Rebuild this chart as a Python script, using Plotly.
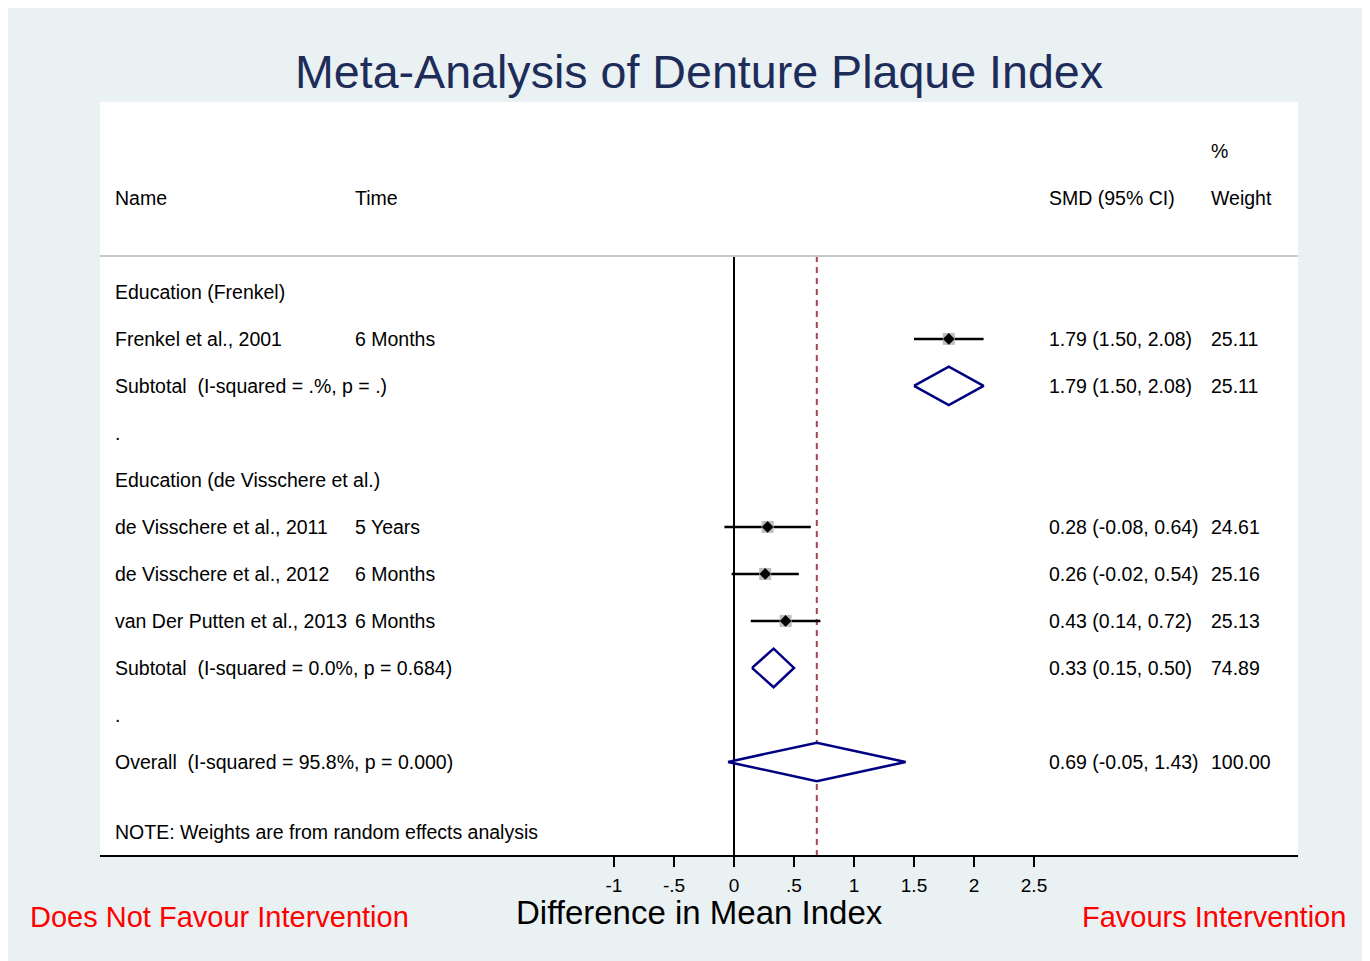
import plotly.graph_objects as go

# ---------------- data ----------------
study_names = ["Frenkel et al., 2001", "de Visschere et al., 2011",
               "de Visschere et al., 2012", "van Der Putten et al., 2013"]
study_times = ["6 Months", "5 Years", "6 Months", "6 Months"]
study_smd = [1.79, 0.28, 0.26, 0.43]
study_lo = [1.50, -0.08, -0.02, 0.14]
study_hi = [2.08, 0.64, 0.54, 0.72]
study_weight = [25.11, 24.61, 25.16, 25.13]
study_rows = [2, 6, 7, 8]

pooled_labels = ["Subtotal\u00a0 (I-squared = .%, p = .)",
                 "Subtotal\u00a0 (I-squared = 0.0%, p = 0.684)",
                 "Overall\u00a0 (I-squared = 95.8%, p = 0.000)"]
pooled_smd = [1.79, 0.33, 0.69]
pooled_lo = [1.50, 0.15, -0.05]
pooled_hi = [2.08, 0.50, 1.43]
pooled_weight = ["25.11", "74.89", "100.00"]
pooled_rows = [3, 9, 11]

group_labels = ["Education (Frenkel)", ".", "Education (de Visschere et al.)", "."]
group_rows = [1, 4, 5, 10]

tick_vals = [-1, -0.5, 0, 0.5, 1, 1.5, 2, 2.5]
tick_text = ["-1", "-.5", "0", ".5", "1", "1.5", "2", "2.5"]

overall_effect = 0.69

# ---------------- layout constants ----------------
FONT = "Arial, Liberation Sans, sans-serif"
X_RANGE = [-5.2833, 4.7]
Y_RANGE = [12.98, -3.04]
X_NAME, X_TIME, X_SMD, X_WT = -5.175, -3.175, 2.608, 3.958
Y_HEADER_LINE = 0.234
NAVY = "#000080"
BG = "#EAF1F3"
ROW_FONT = 19.5


def px_to_paper_y(py):
    return (855 - py) / 753.0


def px_to_paper_x(px):
    return (px - 100) / 1198.0


fig = go.Figure()

# vertical reference lines
fig.add_shape(type="line", xref="x", yref="y", x0=0, x1=0, y0=Y_HEADER_LINE, y1=Y_RANGE[0],
              line=dict(color="black", width=2), layer="below")
fig.add_shape(type="line", xref="x", yref="y", x0=overall_effect, x1=overall_effect,
              y0=Y_HEADER_LINE, y1=Y_RANGE[0],
              line=dict(color="#A8434F", width=2, dash="6px,5px"), layer="below")
# header separator
fig.add_shape(type="line", xref="paper", yref="y", x0=0, x1=1, y0=Y_HEADER_LINE, y1=Y_HEADER_LINE,
              line=dict(color="#C8C8C8", width=2))

# CI lines
for lo, hi, r in zip(study_lo, study_hi, study_rows):
    fig.add_trace(go.Scatter(x=[lo, hi], y=[r, r], mode="lines",
                             line=dict(color="black", width=2.5), showlegend=False,
                             hoverinfo="skip"))
# weight boxes
fig.add_trace(go.Scatter(x=study_smd, y=study_rows, mode="markers",
                         marker=dict(symbol="square", size=12, color="#BDBDBD"),
                         showlegend=False))
# point estimates
fig.add_trace(go.Scatter(x=study_smd, y=study_rows, mode="markers",
                         marker=dict(symbol="diamond", size=9, color="black"),
                         showlegend=False))
# pooled diamonds
for est, lo, hi, r in zip(pooled_smd, pooled_lo, pooled_hi, pooled_rows):
    fig.add_trace(go.Scatter(x=[lo, est, hi, est, lo], y=[r, r - 0.41, r, r + 0.41, r],
                             mode="lines", fill="toself", fillcolor="white",
                             line=dict(color=NAVY, width=2.5), showlegend=False))

ann = []


def txt(x, y, s, xref="x", yref="y", size=ROW_FONT, color="black", xanchor="left", yanchor="middle"):
    ann.append(dict(x=x, y=y, xref=xref, yref=yref, text=s, showarrow=False,
                    xanchor=xanchor, yanchor=yanchor, font=dict(family=FONT, size=size, color=color)))


# headers
txt(X_NAME, -1, "Name")
txt(X_TIME, -1, "Time")
txt(X_SMD, -1, "SMD (95% CI)")
txt(X_WT, -2, "%")
txt(X_WT, -1, "Weight")

for s, r in zip(group_labels, group_rows):
    txt(X_NAME, r, s)
for n, t, e, lo, hi, w, r in zip(study_names, study_times, study_smd, study_lo, study_hi,
                                 study_weight, study_rows):
    txt(X_NAME, r, n)
    txt(X_TIME, r, t)
    txt(X_SMD, r, f"{e:.2f} ({lo:.2f}, {hi:.2f})")
    txt(X_WT, r, f"{w:.2f}")
for s, e, lo, hi, w, r in zip(pooled_labels, pooled_smd, pooled_lo, pooled_hi, pooled_weight,
                              pooled_rows):
    txt(X_NAME, r, s)
    txt(X_SMD, r, f"{e:.2f} ({lo:.2f}, {hi:.2f})")
    txt(X_WT, r, w)
txt(X_NAME, 12.49, "NOTE: Weights are from random effects analysis")

# title & axis title & favour labels
txt(0.5, px_to_paper_y(72), "Meta-Analysis of Denture Plaque Index", xref="paper", yref="paper",
    size=46.6, color="#1E2C5A", xanchor="center")
txt(0.5, px_to_paper_y(912), "Difference in Mean Index", xref="paper", yref="paper",
    size=33, xanchor="center")
txt(px_to_paper_x(28), px_to_paper_y(917), "Does Not Favour Intervention", xref="paper",
    yref="paper", size=29, color="#FF0000", xanchor="left")
txt(px_to_paper_x(1348), px_to_paper_y(917), "Favours Intervention", xref="paper",
    yref="paper", size=29, color="#FF0000", xanchor="right")

fig.update_layout(
    width=1370, height=953,
    margin=dict(l=92, r=80, t=94, b=106),
    paper_bgcolor=BG, plot_bgcolor="white",
    annotations=ann,
    font=dict(family=FONT, size=19, color="black"),
    xaxis=dict(range=X_RANGE, tickvals=tick_vals, ticktext=tick_text, showgrid=False,
               zeroline=False, showline=True, linecolor="black", linewidth=2,
               ticks="outside", ticklen=10, tickwidth=2, tickcolor="black",
               ticklabelstandoff=2,
               tickfont=dict(family=FONT, size=19, color="black")),
    yaxis=dict(range=Y_RANGE, showgrid=False, zeroline=False, showticklabels=False,
               showline=False, ticks=""),
)

fig.write_html("out.html")
